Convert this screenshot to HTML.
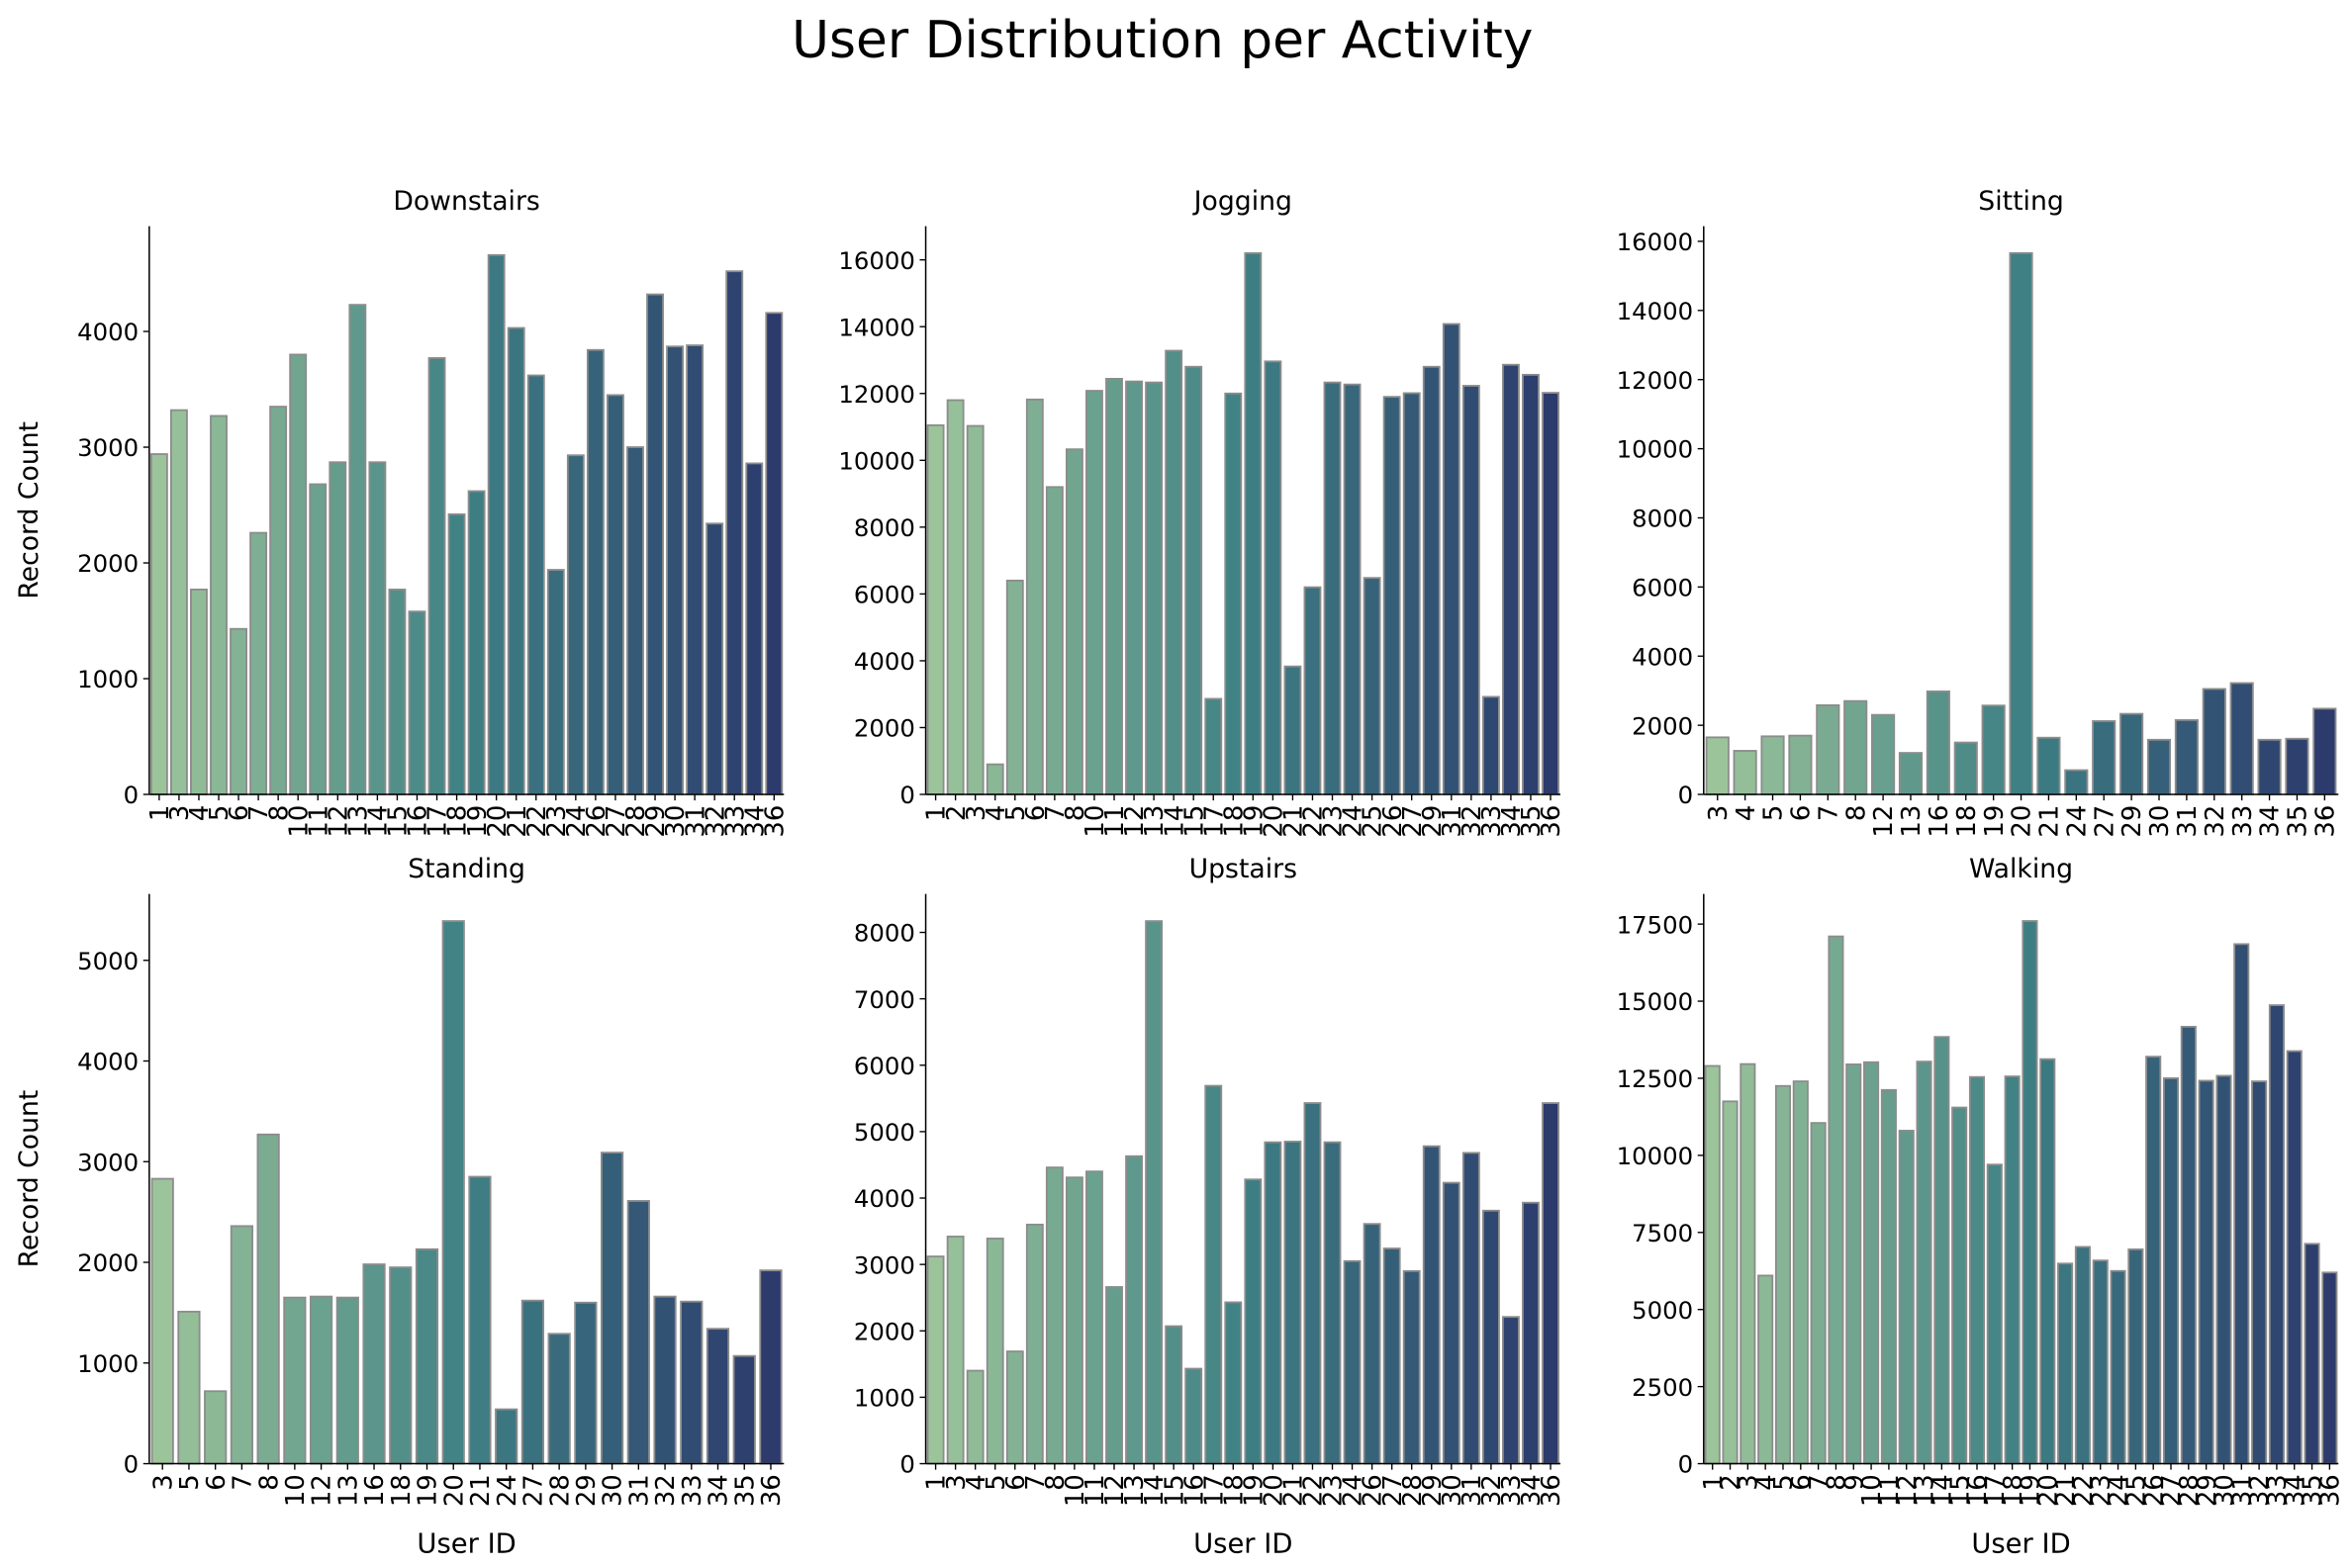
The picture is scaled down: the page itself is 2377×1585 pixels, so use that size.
<!DOCTYPE html>
<html><head><meta charset="utf-8"><style>
html,body{margin:0;padding:0;background:#fff;}
svg{display:block;font-family:"DejaVu Sans","Liberation Sans",sans-serif;}
</style></head><body>
<svg id="fig" width="2377" height="1585" viewBox="0 0 1560 1040.2" xmlns="http://www.w3.org/2000/svg">
<text x="771" y="38" font-size="34" text-anchor="middle">User Distribution per Activity</text>
</svg>
<script>
const downIds=[1,3,4,5,6,7,8,10,11,12,13,14,15,16,17,18,19,20,21,22,23,24,26,27,28,29,30,31,32,33,34,36];
const downVals=[2940,3320,1770,3270,1430,2260,3350,3800,2680,2870,4230,2870,1770,1580,3770,2420,2620,4660,4030,3620,1940,2930,3840,3450,3000,4320,3870,3880,2340,4520,2860,4160];
const jogIds=[1,2,3,4,5,6,7,8,10,11,12,13,14,15,17,18,19,20,21,22,23,24,25,26,27,29,31,32,33,34,35,36];
const jogVals=[11050,11800,11030,900,6400,11820,9200,10330,12080,12440,12360,12330,13280,12800,2860,12000,16200,12960,3830,6200,12330,12270,6480,11900,12010,12800,14080,12230,2920,12860,12560,12020];
const sitIds=[3,4,5,6,7,8,12,13,16,18,19,20,21,24,27,29,30,31,32,33,34,35,36];
const sitVals=[1650,1260,1680,1700,2580,2700,2300,1200,2980,1500,2570,15660,1640,700,2120,2330,1580,2150,3050,3220,1580,1610,2480];
const standIds=[3,5,6,7,8,10,12,13,16,18,19,20,21,24,27,28,29,30,31,32,33,34,35,36];
const standVals=[2830,1510,720,2360,3270,1650,1660,1650,1980,1950,2130,5390,2850,540,1620,1290,1600,3090,2610,1660,1610,1340,1070,1920];
const upIds=[1,3,4,5,6,7,8,10,11,12,13,14,15,16,17,18,19,20,21,22,23,24,26,27,28,29,30,31,32,33,34,36];
const upVals=[3120,3420,1400,3390,1690,3600,4460,4310,4400,2660,4630,8170,2070,1430,5690,2430,4280,4840,4850,5430,4840,3050,3610,3240,2900,4780,4230,4680,3810,2210,3930,5430];
const walkIds=[1,2,3,4,5,6,7,8,9,10,11,12,13,14,15,16,17,18,19,20,21,22,23,24,25,26,27,28,29,30,31,32,33,34,35,36];
const walkVals=[12900,11750,12960,6100,12250,12400,11050,17100,12950,13020,12120,10800,13040,13840,11550,12540,9700,12560,17600,13120,6490,7030,6590,6250,6950,13200,12500,14170,12420,12580,16850,12400,14870,13380,7130,6200];
const downTicks=[0,1000,2000,3000,4000];
const jogTicks=[0,2000,4000,6000,8000,10000,12000,14000,16000];
const sitTicks=[0,2000,4000,6000,8000,10000,12000,14000,16000];
const standTicks=[0,1000,2000,3000,4000,5000];
const upTicks=[0,1000,2000,3000,4000,5000,6000,7000,8000];
const walkTicks=[0,2500,5000,7500,10000,12500,15000,17500];

const NS="http://www.w3.org/2000/svg";
const svg=document.getElementById('fig');
function mk(tag,attrs,parent){const e=document.createElementNS(NS,tag);for(const k in attrs)e.setAttribute(k,attrs[k]);(parent||svg).appendChild(e);return e;}
const stops=[[156,196,154],[62,128,132],[44,58,108]];
function col(t){let a,b,u;if(t<0.5){a=stops[0];b=stops[1];u=t*2;}else{a=stops[1];b=stops[2];u=(t-0.5)*2;}
return 'rgb('+a.map((v,i)=>Math.round(v+(b[i]-v)*u)).join(',')+')';}

const panels=[
 {name:'downstairs',title:'Downstairs',ids:downIds,vals:downVals,ticks:downTicks,x0:99,x1:520,yb:527,yt:150,max:4910,ylab:true,xlab:false},
 {name:'jogging',title:'Jogging',ids:jogIds,vals:jogVals,ticks:jogTicks,x0:614,x1:1035,yb:527,yt:150,max:17010,ylab:false,xlab:false},
 {name:'sitting',title:'Sitting',ids:sitIds,vals:sitVals,ticks:sitTicks,x0:1130,x1:1551,yb:527,yt:150,max:16440,ylab:false,xlab:false},
 {name:'standing',title:'Standing',ids:standIds,vals:standVals,ticks:standTicks,x0:99,x1:520,yb:971,yt:593,max:5660,ylab:true,xlab:true},
 {name:'upstairs',title:'Upstairs',ids:upIds,vals:upVals,ticks:upTicks,x0:614,x1:1035,yb:971,yt:593,max:8580,ylab:false,xlab:true},
 {name:'walking',title:'Walking',ids:walkIds,vals:walkVals,ticks:walkTicks,x0:1130,x1:1551,yb:971,yt:593,max:18480,ylab:false,xlab:true}
];
panels.forEach(p=>{
 const g=mk('g',{});
 
 
 const n=p.ids.length, slot=(p.x1-p.x0)/n;
 const ys=v=>p.yb-(v/p.max)*(p.yb-p.yt);
 const xs=i=>p.x0+slot*(i+0.5);
 p.vals.forEach((v,i)=>{
  const r=mk('rect',{x:xs(i)-slot*0.4,y:ys(v),width:slot*0.8,height:p.yb-ys(v),fill:col(n>1?i/(n-1):0),stroke:'#8c8c8c','stroke-width':1.2},g);
  
  
 });
 p.ids.forEach((id,i)=>{
  mk('line',{x1:xs(i),x2:xs(i),y1:p.yb,y2:p.yb+4,stroke:'#000','stroke-width':0.9},g);
  const t=mk('text',{transform:'translate('+(xs(i)+6)+','+(p.yb+7)+') rotate(-90)','font-size':17,'text-anchor':'end'},g);
  t.textContent=id;
  
  
 });
 p.ticks.forEach(tv=>{
  const y=ys(tv);
  mk('line',{x1:p.x0-4,x2:p.x0,y1:y,y2:y,stroke:'#000','stroke-width':0.9},g);
  const t=mk('text',{x:p.x0-7,y:y+6,'font-size':16,'text-anchor':'end'},g);
  t.textContent=tv;
  
  
 });
 mk('line',{x1:p.x0,x2:p.x0,y1:p.yt,y2:p.yb,stroke:'#000','stroke-width':1},g);
 mk('line',{x1:p.x0,x2:p.x1,y1:p.yb,y2:p.yb,stroke:'#000','stroke-width':1},g);
 const tt=mk('text',{x:(p.x0+p.x1)/2,y:p.yt-11,'font-size':17.5,'text-anchor':'middle'},g);
 tt.textContent=p.title;
 
 
 if(p.ylab){
  const yl=mk('text',{transform:'translate(25,'+((p.yt+p.yb)/2)+') rotate(-90)','font-size':17.5,'text-anchor':'middle'},g);
  yl.textContent='Record Count';
  
  
 }
 if(p.xlab){
  const xl=mk('text',{x:(p.x0+p.x1)/2,y:1030,'font-size':18,'text-anchor':'middle'},g);
  xl.textContent='User ID';
  
  
 }
});
</script>
</body></html>
